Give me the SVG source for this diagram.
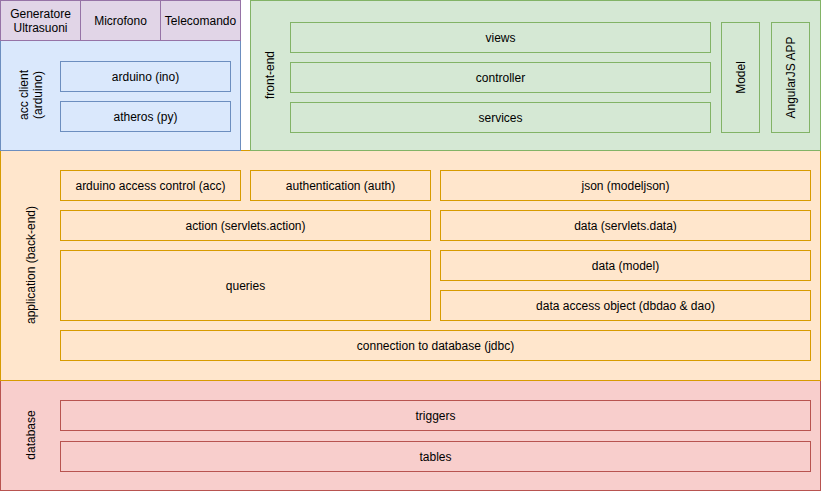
<svg xmlns="http://www.w3.org/2000/svg" width="821" height="491" viewBox="0 0 821 491">
<style>
text{font-family:"Liberation Sans",Arial,Helvetica,sans-serif;font-size:12px;fill:#000;text-anchor:middle;dominant-baseline:central}
.pu{fill:#e1d5e7;stroke:#9673a6}
.bl{fill:#dae8fc;stroke:#6c8ebf}
.gr{fill:#d5e8d4;stroke:#82b366}
.or{fill:#ffe6cc;stroke:#d79b00}
.rd{fill:#f8cecc;stroke:#b85450}
</style>
<g id="layer-database">
<rect class="rd" x="0.5" y="380.5" width="820" height="110"/>
<text transform="translate(31,435) rotate(-90)">database</text>
</g>
<g id="layer-application">
<rect class="or" x="0.5" y="150.5" width="820" height="230"/>
<text transform="translate(31,265) rotate(-90)">application (back-end)</text>
</g>
<g id="layer-acc-client">
<rect class="bl" x="0.5" y="40.5" width="240" height="110"/>
<text transform="translate(31,95) rotate(-90)"><tspan x="0" dy="-7">acc client</tspan><tspan x="0" dy="14">(arduino)</tspan></text>
</g>
<g id="layer-front-end">
<rect class="gr" x="250.5" y="0.5" width="570" height="150"/>
<text transform="translate(270,75) rotate(-90)">front-end</text>
</g>
<g id="generatore"><rect class="pu" x="0.5" y="0.5" width="80" height="40"/><text x="40.5" y="13.5">Generatore</text><text x="40.5" y="27.5">Ultrasuoni</text></g>
<g id="microfono"><rect class="pu" x="80.5" y="0.5" width="80" height="40"/><text x="120.5" y="20.5">Microfono</text></g>
<g id="telecomando"><rect class="pu" x="160.5" y="0.5" width="80" height="40"/><text x="200.5" y="20.5">Telecomando</text></g>
<g id="arduino-ino"><rect class="bl" x="60.5" y="61.5" width="170" height="30"/><text x="145.5" y="76.5">arduino (ino)</text></g>
<g id="atheros-py"><rect class="bl" x="60.5" y="101.5" width="170" height="30"/><text x="145.5" y="116.5">atheros (py)</text></g>
<g id="views"><rect class="gr" x="290.5" y="22.5" width="420" height="30"/><text x="500.5" y="37.5">views</text></g>
<g id="controller"><rect class="gr" x="290.5" y="62.5" width="420" height="30"/><text x="500.5" y="77.5">controller</text></g>
<g id="services"><rect class="gr" x="290.5" y="102.5" width="420" height="30"/><text x="500.5" y="117.5">services</text></g>
<g id="model"><rect class="gr" x="721.5" y="22.5" width="38" height="110"/><text transform="translate(741,77.5) rotate(-90)">Model</text></g>
<g id="angularjs-app"><rect class="gr" x="771.5" y="22.5" width="38" height="110"/><text transform="translate(791,77.5) rotate(-90)">AngularJS APP</text></g>
<g id="acc"><rect class="or" x="60.5" y="170.5" width="180" height="30"/><text x="150.5" y="185.5">arduino access control (acc)</text></g>
<g id="auth"><rect class="or" x="250.5" y="170.5" width="180" height="30"/><text x="340.5" y="185.5">authentication (auth)</text></g>
<g id="json"><rect class="or" x="440.5" y="170.5" width="370" height="30"/><text x="625.5" y="185.5">json (modeljson)</text></g>
<g id="action"><rect class="or" x="60.5" y="210.5" width="370" height="30"/><text x="245.5" y="225.5">action (servlets.action)</text></g>
<g id="servlets-data"><rect class="or" x="440.5" y="210.5" width="370" height="30"/><text x="625.5" y="225.5">data (servlets.data)</text></g>
<g id="queries"><rect class="or" x="60.5" y="250.5" width="370" height="70"/><text x="245.5" y="285.5">queries</text></g>
<g id="data-model"><rect class="or" x="440.5" y="250.5" width="370" height="30"/><text x="625.5" y="265.5">data (model)</text></g>
<g id="dao"><rect class="or" x="440.5" y="290.5" width="370" height="30"/><text x="625.5" y="305.5">data access object (dbdao &amp; dao)</text></g>
<g id="jdbc"><rect class="or" x="60.5" y="330.5" width="750" height="30"/><text x="435.5" y="345.5">connection to database (jdbc)</text></g>
<g id="triggers"><rect class="rd" x="60.5" y="400.5" width="750" height="30"/><text x="435.5" y="415.5">triggers</text></g>
<g id="tables"><rect class="rd" x="60.5" y="441.5" width="750" height="30"/><text x="435.5" y="456.5">tables</text></g>
<g id="connectors"/>
</svg>
